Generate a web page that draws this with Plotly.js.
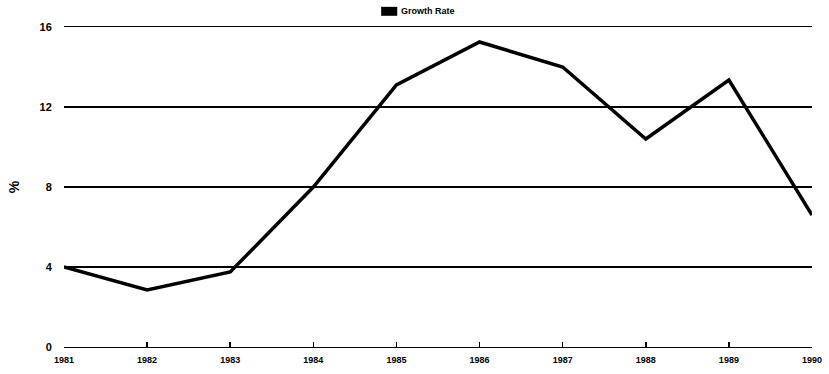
<!DOCTYPE html>
<html><head><meta charset="utf-8">
<script src="https://cdn.plot.ly/plotly-3.0.1.min.js"></script>
<style>html,body{margin:0;padding:0;background:#fff}#c{width:829px;height:374px}</style>
</head><body><div id="c"></div>
<script>
var years = [1981,1982,1983,1984,1985,1986,1987,1988,1989,1990];
var growthRate = [4.0,2.85,3.75,8.0,13.1,15.25,14.0,10.4,13.35,6.6];
var yTicks = [0,4,8,12,16];
var seriesName = 'Growth Rate';
var yLabel = '%';

var fam = 'Liberation Sans, Arial, sans-serif';
var trace = {x:years, y:growthRate, type:'scatter', mode:'lines', name:seriesName,
  line:{color:'#000', width:3.5}, showlegend:false, cliponaxis:false};
var layout = {
  width:829, height:374,
  margin:{l:64, r:17, t:27, b:27},
  paper_bgcolor:'#fff', plot_bgcolor:'#fff',
  font:{family:fam, color:'#000', size:9, weight:'bold'},
  xaxis:{range:[years[0], years[years.length-1]], tickvals:years, ticktext:years.map(String),
    showgrid:false, zeroline:false, showline:true, mirror:true, linecolor:'#000', linewidth:1.3,
    ticks:'inside', ticklen:5, tickcolor:'#000', tickwidth:1.5, ticklabelstandoff:4,
    tickfont:{family:fam, size:9, color:'#000', weight:'bold'}},
  yaxis:{range:[0,16], tickvals:yTicks, ticktext:yTicks.map(String),
    showgrid:true, gridcolor:'#000', gridwidth:1.2, zeroline:false, showline:false,
    ticks:'outside', ticklen:0, ticklabelstandoff:9,
    tickfont:{family:fam, size:11, color:'#000', weight:'bold'},
    title:{text:yLabel, standoff:16, font:{family:fam, size:14, color:'#000', weight:'bold'}}},
  shapes:[{type:'rect', xref:'paper', yref:'paper', x0:0.424, x1:0.4455, y0:1.063, y1:1.035,
    fillcolor:'#000', line:{width:0}}],
  annotations:[{xref:'paper', yref:'paper', x:0.4475, y:1.05, xanchor:'left', yanchor:'middle',
    text:seriesName, showarrow:false, font:{family:fam, size:9, color:'#000', weight:'bold'}}]
};
Plotly.newPlot('c',[trace],layout,{displayModeBar:false, staticPlot:true});
</script></body></html>
